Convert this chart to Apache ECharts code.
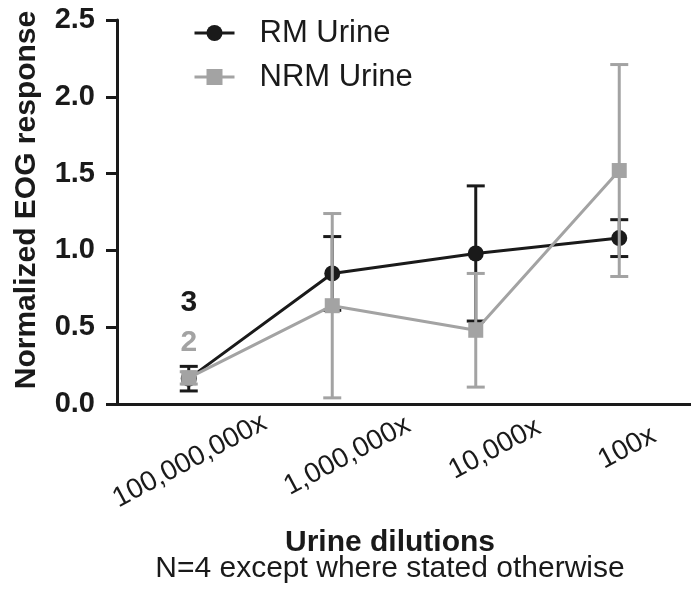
<!DOCTYPE html>
<html>
<head>
<meta charset="utf-8">
<script src="https://cdn.jsdelivr.net/npm/echarts@6/dist/echarts.min.js"></script>
<style>
  html, body { margin: 0; padding: 0; background: #fff; }
  #chart { width: 691px; height: 601px; }
</style>
</head>
<body>
<div id="chart"></div>
<script>
const categories = ['100,000,000x', '1,000,000x', '10,000x', '100x']
const rmMean = [0.165, 0.85, 0.98, 1.08]
const rmErr = [0.08, 0.24, 0.44, 0.12]
const nrmMean = [0.17, 0.64, 0.48, 1.52]
const nrmErr = [0.04, 0.60, 0.37, 0.69]
// sample sizes written above the first dilution
const nText = ['3', '2']
const nY = [0.66, 0.40]
const yTicks = [0, 0.5, 1.0, 1.5, 2.0, 2.5]

const BLACK = '#1a1a1a'
const GRAY = '#a3a3a3'
const FONT = '"Liberation Sans", Arial, sans-serif'

// where each rotated tick label's centre sits, relative to its tick (screen px)
const ROT = 28
const labelShift = [[1, 57], [15, 52], [19, 45], [8, 44]]
function toLocal(s) {
  const a = ROT * Math.PI / 180
  const c = Math.cos(a), n = Math.sin(a)
  return [s[0] * c - s[1] * n, s[0] * n + s[1] * c]
}

function errorBars(mean, err, color) {
  return {
    type: 'custom',
    data: mean.map((m, i) => [i, m - err[i], m + err[i]]),
    renderItem(params, api) {
      const lo = api.coord([api.value(0), api.value(1)])
      const hi = api.coord([api.value(0), api.value(2)])
      const w = 9
      const style = { stroke: color, lineWidth: 3 }
      return {
        type: 'group',
        children: [
          { type: 'line', shape: { x1: lo[0], y1: lo[1], x2: hi[0], y2: hi[1] }, style },
          { type: 'line', shape: { x1: lo[0] - w, y1: lo[1], x2: lo[0] + w, y2: lo[1] }, style },
          { type: 'line', shape: { x1: hi[0] - w, y1: hi[1], x2: hi[0] + w, y2: hi[1] }, style }
        ]
      }
    },
    silent: true
  }
}

const chart = echarts.init(document.getElementById('chart'))
const option = {
  animation: false,
  textStyle: { fontFamily: FONT },
  grid: { left: 117, right: 0, top: 20, bottom: 197, containLabel: false, outerBoundsMode: 'none' },
  legend: {
    data: ['RM Urine', 'NRM Urine'],
    orient: 'vertical',
    left: 193,
    top: 17,
    padding: 0,
    itemWidth: 40,
    itemHeight: 20,
    itemGap: 12,
    lineStyle: { width: 3 },
    textStyle: { fontSize: 31, color: BLACK, fontFamily: FONT, lineHeight: 32, padding: [0, 0, 0, 20] }
  },
  xAxis: {
    type: 'category',
    data: categories,
    boundaryGap: true,
    axisLine: { lineStyle: { color: BLACK, width: 3 } },
    axisTick: { alignWithLabel: true, length: 11, lineStyle: { color: BLACK, width: 3 } },
    axisLabel: { show: false },
    name: '{a|Urine dilutions}\n{b|N=4 except where stated otherwise}',
    nameLocation: 'middle',
    nameGap: 126,
    nameTextStyle: {
      padding: [0, 28, 0, 0],
      rich: {
        a: { fontSize: 30, fontWeight: 'bold', color: BLACK, fontFamily: FONT, lineHeight: 26 },
        b: { fontSize: 30, color: BLACK, fontFamily: FONT, lineHeight: 26 }
      }
    }
  },
  yAxis: {
    type: 'value',
    min: 0,
    max: 2.5,
    interval: 0.5,
    splitLine: { show: false },
    axisLine: { show: true, lineStyle: { color: BLACK, width: 3 } },
    axisTick: { show: true, length: 11, lineStyle: { color: BLACK, width: 3 } },
    axisLabel: {
      fontSize: 29, fontWeight: 'bold', color: BLACK, margin: 22, fontFamily: FONT,
      formatter: v => yTicks.includes(v) ? v.toFixed(1) : ''
    },
    name: 'Normalized EOG response',
    nameLocation: 'middle',
    nameGap: 75,
    nameTextStyle: { fontSize: 30, fontWeight: 'bold', color: BLACK, fontFamily: FONT, padding: [0, 0, 0, 24] }
  },
  series: [
    Object.assign(errorBars(rmMean, rmErr, BLACK), { name: 'rmErr', z: 2 }),
    {
      name: 'RM Urine',
      type: 'line',
      data: rmMean,
      symbol: 'circle',
      symbolSize: 16,
      lineStyle: { color: BLACK, width: 3 },
      itemStyle: { color: BLACK },
      z: 3
    },
    Object.assign(errorBars(nrmMean, nrmErr, GRAY), { name: 'nrmErr', z: 4 }),
    {
      name: 'NRM Urine',
      type: 'line',
      data: nrmMean,
      symbol: 'rect',
      symbolSize: 15,
      lineStyle: { color: GRAY, width: 3 },
      itemStyle: { color: GRAY },
      z: 5
    },
    {
      // sample size notes
      type: 'scatter',
      symbolSize: 0,
      silent: true,
      clip: false,
      itemStyle: { opacity: 1 },
      data: nText.map((t, i) => ({
        value: [0, nY[i]], name: t,
        label: { color: i === 0 ? BLACK : GRAY }
      })),
      label: {
        show: true,
        position: [0, 0],
        align: 'center',
        verticalAlign: 'middle',
        formatter: '{b}',
        fontSize: 30,
        fontWeight: 'bold',
        fontFamily: FONT
      },
      z: 6
    },
    {
      // rotated dilution labels under the ticks
      type: 'scatter',
      symbolSize: 0,
      silent: true,
      clip: false,
      itemStyle: { opacity: 1 },
      data: categories.map((c, i) => ({
        value: [i, 0], name: c,
        label: { offset: toLocal(labelShift[i]) }
      })),
      label: {
        show: true,
        position: [0, 0],
        align: 'center',
        verticalAlign: 'middle',
        rotate: ROT,
        formatter: '{b}',
        fontSize: 28,
        color: BLACK,
        fontFamily: FONT
      },
      z: 6
    }
  ]
}
chart.setOption(option)
</script>
</body>
</html>
